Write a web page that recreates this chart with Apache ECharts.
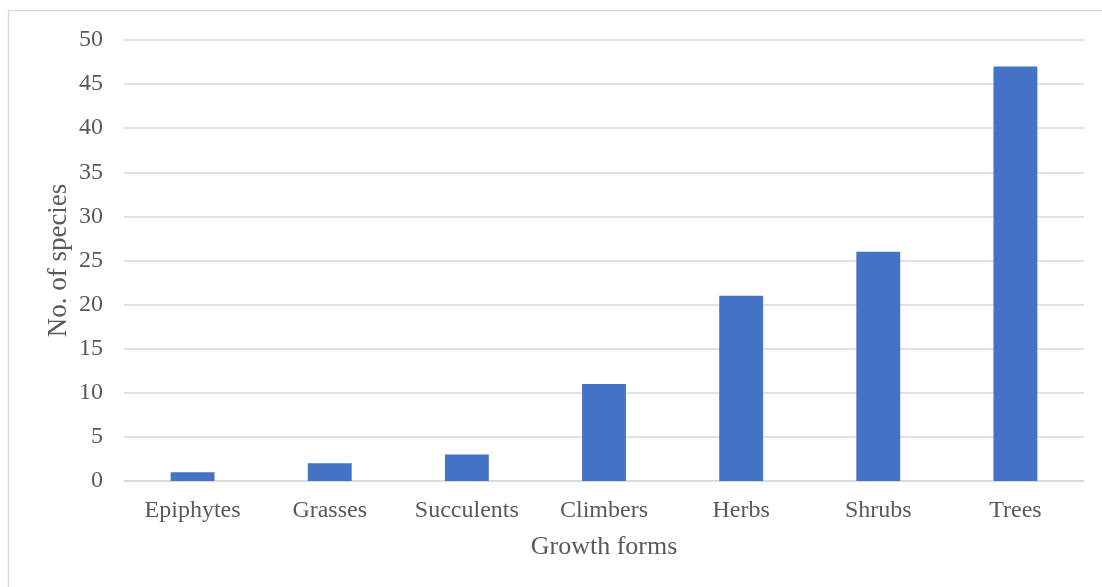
<!DOCTYPE html>
<html>
<head>
<meta charset="utf-8">
<script src="https://cdn.jsdelivr.net/npm/echarts@6/dist/echarts.min.js"></script>
<style>
html,body{margin:0;padding:0;background:#fff;}
#chart{width:1102px;height:587px;}
</style>
</head>
<body>
<div id="chart"></div>
<script>
// growth forms and species counts
var categories = ['Epiphytes', 'Grasses', 'Succulents', 'Climbers', 'Herbs', 'Shrubs', 'Trees'];
var speciesCount = [1, 2, 3, 11, 21, 26, 47];

var chart = echarts.init(document.getElementById('chart'));
var serif = '"Liberation Serif", "DejaVu Serif", serif';
var textCol = '#595959';
var lineCol = '#d9d9d9';

var option = {
    animation: false,
    backgroundColor: '#fff',
    graphic: [{
        type: 'rect',
        left: 6, top: 8,
        shape: {width: 1200, height: 700},
        style: {fill: 'none', stroke: lineCol, lineWidth: 1.5},
        silent: true
    }],
    grid: {left: 124, right: 18, top: 40, bottom: 106},
    xAxis: {
        type: 'category',
        data: categories,
        name: 'Growth forms',
        nameLocation: 'middle',
        nameGap: 53,
        nameMoveOverlap: false,
        nameTextStyle: {fontFamily: serif, fontSize: 26, color: textCol},
        axisLine: {lineStyle: {color: lineCol, width: 1.5}},
        axisTick: {show: false},
        axisLabel: {fontFamily: serif, fontSize: 24, color: textCol, margin: 18}
    },
    yAxis: {
        type: 'value',
        min: 0, max: 50, interval: 5,
        name: 'No. of species',
        nameLocation: 'middle',
        nameGap: 52,
        nameMoveOverlap: false,
        nameTextStyle: {fontFamily: serif, fontSize: 27, color: textCol},
        axisLine: {show: false},
        axisTick: {show: false},
        axisLabel: {fontFamily: serif, fontSize: 24, color: textCol, margin: 21},
        splitLine: {lineStyle: {color: lineCol, width: 1.5}}
    },
    series: [{
        type: 'bar',
        data: speciesCount,
        barWidth: '32%',
        itemStyle: {color: '#4472c4'}
    }]
};
chart.setOption(option);
</script>
</body>
</html>
